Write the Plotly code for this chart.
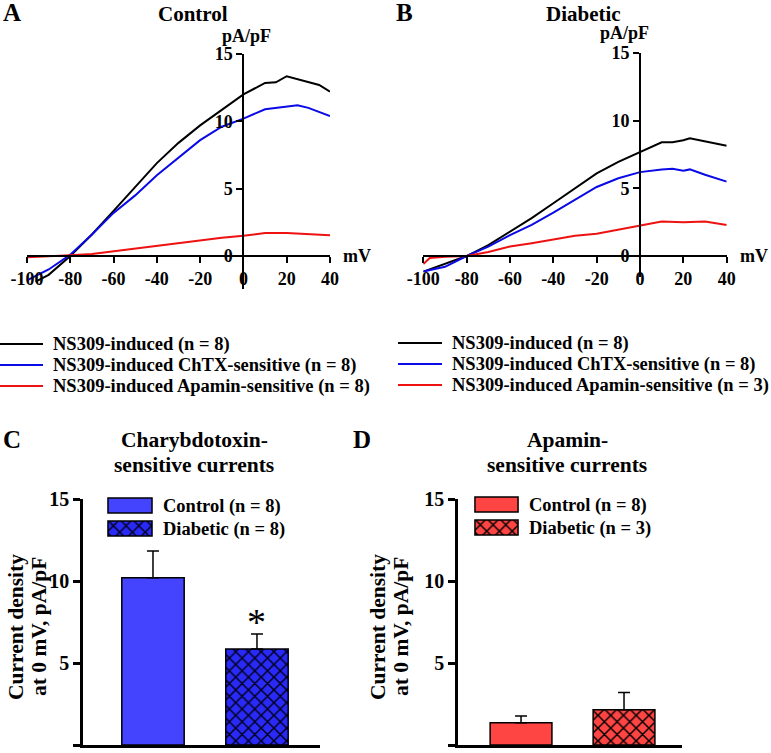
import plotly.graph_objects as go

W, H = 771, 753
FONT = "Liberation Serif, Times New Roman, serif"

# ---------------- data: I-V curves (mV -> pA/pF) ----------------
# Panel A (Control)
v_a_total = [-96, -90, -80, -70, -60, -50, -40, -30, -20, -10, 0, 10, 15, 20, 30, 35, 40]
i_a_total = [-1.9, -1.4, 0.0, 1.6, 3.35, 5.1, 6.9, 8.4, 9.7, 10.85, 12.0, 12.85, 12.9, 13.35, 12.9, 12.7, 12.2]
v_a_chtx = [-100, -90, -80, -70, -60, -50, -40, -30, -20, -10, 0, 10, 20, 25, 30, 40]
i_a_chtx = [-1.8, -1.0, 0.1, 1.6, 3.2, 4.5, 6.0, 7.3, 8.6, 9.6, 10.2, 10.9, 11.1, 11.2, 11.0, 10.4]
v_a_apa = [-100, -90, -80, -70, -60, -50, -40, -30, -20, -10, 0, 10, 20, 30, 40]
i_a_apa = [-0.1, -0.05, 0.05, 0.15, 0.35, 0.55, 0.8, 1.0, 1.2, 1.35, 1.5, 1.7, 1.7, 1.6, 1.55]

# Panel B (Diabetic)
v_b_total = [-100, -90, -80, -70, -60, -50, -40, -30, -20, -10, 0, 10, 15, 20, 23, 30, 40]
i_b_total = [-1.15, -0.55, 0.0, 0.8, 1.8, 2.8, 3.9, 5.0, 6.1, 6.95, 7.7, 8.4, 8.4, 8.55, 8.7, 8.45, 8.15]
v_b_chtx = [-100, -90, -80, -70, -60, -50, -40, -30, -20, -10, 0, 10, 15, 20, 23, 30, 40]
i_b_chtx = [-1.15, -0.8, 0.0, 0.7, 1.55, 2.3, 3.2, 4.15, 5.1, 5.75, 6.2, 6.4, 6.45, 6.3, 6.4, 6.0, 5.5]
v_b_apa = [-100, -97, -90, -80, -70, -60, -50, -40, -30, -20, -10, 0, 10, 20, 30, 40]
i_b_apa = [-0.6, -0.15, -0.05, 0.0, 0.3, 0.7, 0.95, 1.25, 1.5, 1.65, 1.95, 2.2, 2.55, 2.5, 2.55, 2.3]

iv_colors = ["#000000", "#0a0ae6", "#ee1111"]
iv_labels_a = ["NS309-induced (n = 8)", "NS309-induced ChTX-sensitive (n = 8)",
               "NS309-induced Apamin-sensitive (n = 8)"]
iv_labels_b = ["NS309-induced (n = 8)", "NS309-induced ChTX-sensitive (n = 8)",
               "NS309-induced Apamin-sensitive (n = 3)"]
mv_ticks = [-100, -80, -60, -40, -20, 0, 20, 40]
mv_tick_text = ["-100", "-80", "-60", "-40", "-20", "0", "20", "40"]
pa_ticks = [0, 5, 10, 15]

# ---------------- data: bar charts (current density at 0 mV) ----------------
groups = ["Control", "Diabetic"]
chtx_mean = [10.2, 5.85]
chtx_sem = [1.63, 0.92]
apa_mean = [1.36, 2.15]
apa_sem = [0.41, 1.05]
chtx_legend = ["Control (n = 8)", "Diabetic (n = 8)"]
apa_legend = ["Control (n = 8)", "Diabetic (n = 3)"]
legend_key = 1
line_key = [0, 1]


def px(x):
    return x / W


def py(y):
    return 1 - y / H


def tf(size):
    return dict(family=FONT, size=size, color="black", weight="bold")


fig = go.Figure()

# ---- I-V curves ----
for v, i, c, n in zip([v_a_total, v_a_chtx, v_a_apa], [i_a_total, i_a_chtx, i_a_apa], iv_colors, iv_labels_a):
    fig.add_trace(go.Scatter(x=v, y=i, mode="lines", line=dict(color=c, width=2),
                             name=n, xaxis="x", yaxis="y", showlegend=False))
for v, i, c, n in zip([v_b_total, v_b_chtx, v_b_apa], [i_b_total, i_b_chtx, i_b_apa], iv_colors, iv_labels_b):
    fig.add_trace(go.Scatter(x=v, y=i, mode="lines", line=dict(color=c, width=2),
                             name=n, xaxis="x2", yaxis="y2", showlegend=False))

# ---- line legends (mini axes) ----
for lab, c in zip(iv_labels_a, iv_colors):
    fig.add_trace(go.Scatter(x=line_key, y=[lab, lab], mode="lines", line=dict(color=c, width=2),
                             xaxis="x5", yaxis="y5", showlegend=False, hoverinfo="skip"))
for lab, c in zip(iv_labels_b, iv_colors):
    fig.add_trace(go.Scatter(x=line_key, y=[lab, lab], mode="lines", line=dict(color=c, width=2),
                             xaxis="x6", yaxis="y6", showlegend=False, hoverinfo="skip"))

# ---- bars ----
blue_solid, blue_pat_bg, blue_pat_fg = "#4444ff", "#2a2af8", "#00001a"
red_solid, red_pat_bg, red_pat_fg = "#ff4444", "#ff4444", "#000000"


def solid_marker(col):
    return dict(color=col, line=dict(color="black", width=1.5))


def pattern_marker(bg, fg):
    return dict(color=bg, line=dict(color="black", width=1.5),
                pattern=dict(shape="x", bgcolor=bg, fgcolor=fg, fillmode="replace",
                             size=9, solidity=0.3))


def err(v):
    return dict(type="data", symmetric=False, array=[v], arrayminus=[0],
                color="black", thickness=1.5, width=6)


panels = [
    (chtx_mean, chtx_sem, chtx_legend, solid_marker(blue_solid), pattern_marker(blue_pat_bg, blue_pat_fg), "3", "7"),
    (apa_mean, apa_sem, apa_legend, solid_marker(red_solid), pattern_marker(red_pat_bg, red_pat_fg), "4", "8"),
]
for mean, sem, leg, m_ctrl, m_diab, ax, lax in panels:
    for k, mk in enumerate([m_ctrl, m_diab]):
        fig.add_trace(go.Bar(x=[groups[k]], y=[mean[k]], width=0.6, marker=mk, error_y=err(sem[k]),
                             xaxis="x" + ax, yaxis="y" + ax, showlegend=False, name=leg[k]))
        # legend key drawn on its own small axis
        fig.add_trace(go.Bar(x=[legend_key], y=[leg[k]], orientation="h", width=0.66, marker=mk,
                             xaxis="x" + lax, yaxis="y" + lax, showlegend=False, hoverinfo="skip"))

# ---------------- layout ----------------
common = dict(showgrid=False, zeroline=False, linecolor="black", tickcolor="black", automargin=False)


def iv_axes(xd, yd, yr):
    xr = [-100, 40]
    xzero = xd[0] + (0 - xr[0]) / (xr[1] - xr[0]) * (xd[1] - xd[0])
    yzero = yd[0] + (0 - yr[0]) / (yr[1] - yr[0]) * (yd[1] - yd[0])
    xa = dict(domain=xd, range=xr, anchor="free", position=yzero, tickmode="array",
              tickvals=mv_ticks, ticktext=mv_tick_text,
              ticks="outside", ticklen=6, tickwidth=2, showline=True, linewidth=2,
              tickfont=tf(18), **common)
    ya = dict(domain=yd, range=yr, anchor="free", position=xzero, tickmode="array", tickvals=pa_ticks,
              ticks="outside", ticklen=6, tickwidth=2, showline=True, linewidth=2,
              tickfont=tf(18), **common)
    return xa, ya


xa1, ya1 = iv_axes([px(27), px(330)], [py(289), py(54)], [-2.45, 15])
xa2, ya2 = iv_axes([px(423.3), px(726.7)], [py(277), py(53)], [-1.55, 15])


def bar_axes(xd, xr, anchor_y, anchor_x):
    xa = dict(domain=xd, range=xr, type="category", categoryorder="array", categoryarray=groups,
              anchor=anchor_y, showline=True, linewidth=2.5,
              ticks="", showticklabels=False, **common)
    ya = dict(domain=[py(745), py(499)], range=[0, 15], anchor=anchor_x, tickmode="array", tickvals=pa_ticks,
              ticks="outside", ticklen=7, tickwidth=2.5, showline=True, linewidth=2.5,
              tickfont=tf(20), **common)
    return xa, ya


xa3, ya3 = bar_axes([px(83), px(320)], [-0.673, 1.606], "y3", "x3")
xa4, ya4 = bar_axes([px(458), px(682)], [-0.612, 1.563], "y4", "x4")


def legend_axes(xd, yd, anchor_x, labels, xr, size):
    n = len(labels)
    xa = dict(domain=xd, range=xr, visible=False, fixedrange=True)
    ya = dict(domain=yd, anchor=anchor_x, type="category", categoryorder="array", categoryarray=labels,
              range=[n - 0.5, -0.5], side="right",
              tickmode="array", tickvals=labels, ticktext=labels,
              ticks="", showline=False, ticklabelstandoff=9, tickfont=tf(size), **common)
    return xa, ya


xa5, ya5 = legend_axes([px(0), px(43)], [py(396.5), py(333.5)], "x5", iv_labels_a, [0, 1], 18.5)
xa6, ya6 = legend_axes([px(398), px(442)], [py(395.5), py(332.5)], "x6", iv_labels_b, [0, 1], 18.5)
xa7, ya7 = legend_axes([px(107), px(153)], [py(540), py(494)], "x7", chtx_legend, [-0.022, 1.022], 18.5)
xa8, ya8 = legend_axes([px(474), px(519)], [py(539), py(493)], "x8", apa_legend, [-0.022, 1.022], 18.5)

annotations = []


def ann(text, x, y, size, **kw):
    d = dict(text=text, x=px(x), y=py(y), xref="paper", yref="paper", showarrow=False,
             font=tf(size), xanchor="center", yanchor="middle")
    d.update(kw)
    annotations.append(d)


ann("A", 12, 13, 25)
ann("B", 404, 13, 25)
ann("C", 12, 439, 25)
ann("D", 362, 439, 25)
ann("Control", 193, 14, 21)
ann("Diabetic", 583, 14, 21)
ann("Charybdotoxin-", 194, 440, 21.5)
ann("sensitive currents", 194, 465, 21.5)
ann("Apamin-", 567, 440, 21.5)
ann("sensitive currents", 567, 465, 21.5)
ann("Current density", 16, 627, 21.5, textangle=-90)
ann("at 0 mV, pA/pF", 39, 627, 21.5, textangle=-90)
ann("Current density", 378, 627, 21.5, textangle=-90)
ann("at 0 mV, pA/pF", 401, 627, 21.5, textangle=-90)

# axis unit labels, anchored to data positions
annotations.append(dict(text="mV", x=40, y=0, xref="x", yref="y", xanchor="left", yanchor="middle",
                        xshift=11, showarrow=False, font=tf(18)))
annotations.append(dict(text="mV", x=40, y=0, xref="x2", yref="y2", xanchor="left", yanchor="middle",
                        xshift=11, showarrow=False, font=tf(18)))
annotations.append(dict(text="pA/pF", x=0, y=15, xref="x", yref="y", xanchor="center", yanchor="bottom",
                        xshift=3, yshift=6, showarrow=False, font=tf(18)))
annotations.append(dict(text="pA/pF", x=0, y=15, xref="x2", yref="y2", xanchor="center", yanchor="bottom",
                        xshift=-16, yshift=8, showarrow=False, font=tf(18)))
# significance marker
annotations.append(dict(text="*", x=groups[1], y=chtx_mean[1] + chtx_sem[1], xref="x3", yref="y3",
                        xanchor="center", yanchor="bottom", yshift=-11, showarrow=False,
                        font=dict(family=FONT, size=38, color="black")))

fig.update_layout(
    template="none",
    width=W, height=H, margin=dict(l=0, r=0, t=0, b=0, pad=0),
    paper_bgcolor="white", plot_bgcolor="rgba(0,0,0,0)",
    showlegend=False, barmode="overlay",
    xaxis=xa1, yaxis=ya1, xaxis2=xa2, yaxis2=ya2,
    xaxis3=xa3, yaxis3=ya3, xaxis4=xa4, yaxis4=ya4,
    xaxis5=xa5, yaxis5=ya5, xaxis6=xa6, yaxis6=ya6,
    xaxis7=xa7, yaxis7=ya7, xaxis8=xa8, yaxis8=ya8,
    annotations=annotations,
    font=dict(family=FONT, color="black"),
)

fig.write_html("out.html", config={"displayModeBar": False},
               post_script="document.body.style.margin='0px';")
